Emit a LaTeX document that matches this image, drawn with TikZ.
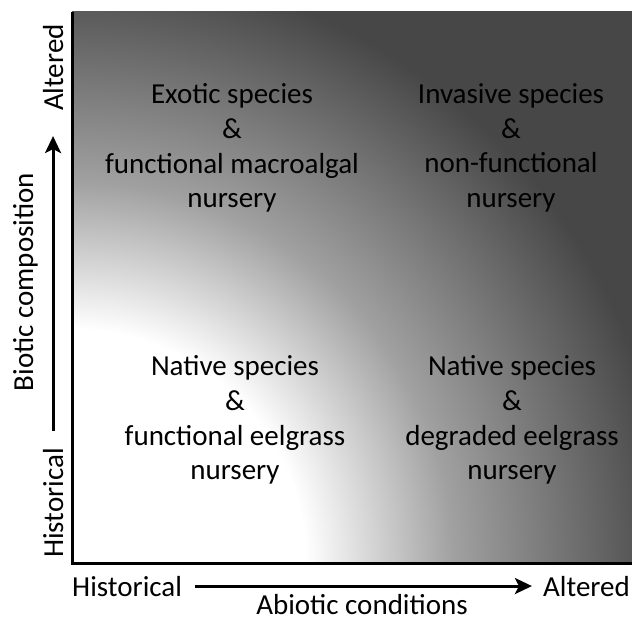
\documentclass[tikz,border=0pt]{standalone}
\usepackage{fontspec}
\setmainfont{Carlito}
\usetikzlibrary{arrows.meta}
\definecolor{nurserydark}{gray}{0.28}
\definecolor{nurserymid}{gray}{0.63}
\pgfdeclareradialshading{nurseryshade}{\pgfpointorigin}{color(0bp)=(white); color(7.3bp)=(white); color(11.9bp)=(nurserymid); color(18.7bp)=(nurserydark); color(50bp)=(nurserydark)}

\begin{document}
\begin{tikzpicture}[x=1pt, y=-1pt, font=\fontsize{29}{34.7}\selectfont,
  axislab/.style={inner sep=0pt},
  axisarrow/.style={line width=3pt, -{Stealth[length=17pt, width=16pt, inset=4pt]}},
  quadtext/.style={align=center, inner sep=0pt}]
\useasboundingbox (0,0) rectangle (632,618);
% shaded field
\begin{scope}
\clip (72,12) rectangle (632,563);
\shade[shading=nurseryshade] (72,563) circle (800pt);
\end{scope}
\coordinate (top) at (72,12);
\coordinate (origin) at (72,563);
\coordinate (right) at (632,563);
\draw[line width=3pt] (top) -- (origin) -- (right);
% quadrants
\foreach \pos/\nm/\txt in {{232,148}/exotic/{Exotic species\\\&\\functional macroalgal\\nursery},
  {511,148}/invasive/{Invasive species\\\&\\non-functional\\nursery},
  {235,420}/nativehist/{Native species\\\&\\functional eelgrass\\nursery},
  {512,420}/nativedeg/{Native species\\\&\\degraded eelgrass\\nursery}}
  \node[quadtext] (\nm) at (\pos) {\txt};
% axes
\node[axislab, anchor=base west] (xhist) at (72,596) {Historical};
\node[axislab, anchor=base east] (xalt) at (630,596) {Altered};
\node[axislab, anchor=base] (xname) at (362,614) {Abiotic conditions};
\node[axislab, rotate=90, anchor=base west] (yhist) at (63,558) {Historical};
\node[axislab, rotate=90, anchor=base east] (yalt) at (63,24) {Altered};
\node[axislab, rotate=90, anchor=base] (yname) at (33,282) {Biotic composition};
\draw[axisarrow, shorten <=13pt, shorten >=11pt] (xhist) -- (xalt);
\draw[axisarrow, shorten <=17pt, shorten >=25pt] (yhist) -- (yalt);
\end{tikzpicture}
\end{document}
